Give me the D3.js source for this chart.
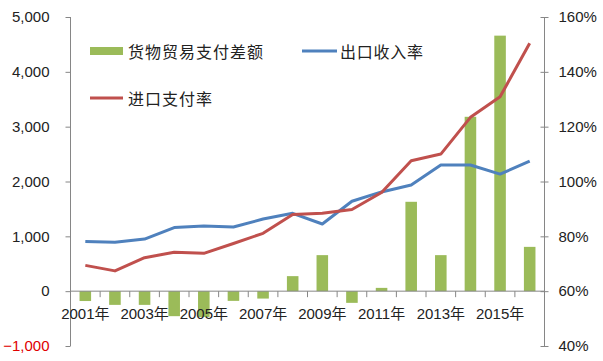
<!DOCTYPE html>
<html><head><meta charset="utf-8">
<script src="https://cdn.jsdelivr.net/npm/d3@7"></script>
<style>body{margin:0;background:#fff}svg{display:block}</style>
</head><body>
<svg id="c" width="603" height="361"></svg>
<script>
const years = ["2001","2002","2003","2004","2005","2006","2007","2008","2009","2010","2011","2012","2013","2014","2015","2016"];
const tradeGap = [-180,-250,-250,-456,-470,-177,-135,274,657,-213,60,1630,657,3180,4660,808];
const exportRate = [78.1,77.8,79.0,83.2,83.8,83.4,86.3,88.4,84.5,92.8,96.2,98.7,106.0,106.0,102.7,107.4];
const importRate = [69.4,67.4,72.2,74.2,73.8,77.4,81.1,88.0,88.4,89.8,96.0,107.6,110.0,123.4,130.9,150.4];
const leftTicks = [-1000,0,1000,2000,3000,4000,5000];
const rightTicks = [40,60,80,100,120,140,160];
const labelYears = ["2001","2003","2005","2007","2009","2011","2013","2015"];

const svg = d3.select("#c");
const X0 = 70.5, X1 = 544.5, YT = 17, YB = 346;
const x = d3.scaleBand().domain(years).range([X0, X1]).paddingInner(0).paddingOuter(0);
const yL = d3.scaleLinear().domain([-1000,5000]).range([YB, YT]);
const yR = d3.scaleLinear().domain([40,160]).range([YB, YT]);
const axisCol = "#868686";
const numFont = "'Liberation Sans', Arial, sans-serif";
const cjkFont = "'Liberation Sans', 'Noto Sans CJK SC', sans-serif";

// bars
const bw = x.bandwidth() * 0.39;
svg.append("g").selectAll("rect").data(years).join("rect")
  .attr("x", d => x(d) + x.bandwidth()/2 - bw/2)
  .attr("width", bw)
  .attr("y", (d,i) => Math.min(yL(tradeGap[i]), yL(0)))
  .attr("height", (d,i) => Math.abs(yL(tradeGap[i]) - yL(0)))
  .attr("fill", "#9BBB59");

// left axis
const gL = svg.append("g").attr("transform", `translate(${X0},0)`)
  .call(d3.axisLeft(yL).tickValues(leftTicks).tickSize(5).tickPadding(16).tickFormat(d3.format(",")));
gL.select(".domain").attr("stroke", axisCol).attr("d", `M-0,${YT}V${YB}`);
gL.selectAll(".tick line").attr("stroke", axisCol);
gL.selectAll(".tick text").attr("font-family", numFont).attr("font-size", 15)
  .attr("fill", d => d < 0 ? "#E00000" : "#222");

// right axis
const gR = svg.append("g").attr("transform", `translate(${X1},0)`)
  .call(d3.axisRight(yR).tickValues(rightTicks).tickSize(4).tickPadding(10).tickFormat(d => d + "%"));
gR.select(".domain").attr("stroke", axisCol).attr("d", `M0,${YT}V${YB}`);
gR.selectAll(".tick line").attr("stroke", axisCol).attr("x1", -4);
gR.selectAll(".tick text").attr("font-family", numFont).attr("font-size", 15).attr("fill", "#222");

// x axis at zero
const y0 = yL(0);
svg.append("line").attr("x1", X0).attr("x2", X1).attr("y1", y0).attr("y2", y0).attr("stroke", axisCol);
const bounds = years.map(d => x(d)).concat([X1]);
svg.append("g").selectAll("line").data(bounds).join("line")
  .attr("x1", d => d).attr("x2", d => d).attr("y1", y0).attr("y2", y0 + 6).attr("stroke", axisCol);
svg.append("g").selectAll("text").data(labelYears).join("text")
  .attr("x", d => x(d) + x.bandwidth()/2)
  .attr("y", y0 + 28)
  .attr("text-anchor", "middle")
  .attr("font-family", cjkFont).attr("font-size", 15).attr("fill", "#222")
  .text(d => d + "年");

// lines
const line = d3.line().x((d,i) => x(years[i]) + x.bandwidth()/2).y(d => yR(d));
svg.append("path").datum(exportRate).attr("d", line).attr("fill", "none")
  .attr("stroke", "#4F81BD").attr("stroke-width", 3).attr("stroke-linejoin", "round");
svg.append("path").datum(importRate).attr("d", line).attr("fill", "none")
  .attr("stroke", "#C0504D").attr("stroke-width", 3).attr("stroke-linejoin", "round");

// legend
const lg = svg.append("g");
lg.append("rect").attr("x", 90).attr("y", 47).attr("width", 33).attr("height", 8).attr("fill", "#9BBB59");
lg.append("text").attr("x", 128).attr("y", 51).attr("dominant-baseline", "central")
  .attr("font-family", "'Noto Sans CJK SC', sans-serif").attr("font-size", 16).attr("fill", "#222")
  .attr("textLength", 135).text("货物贸易支付差额");
lg.append("line").attr("x1", 302).attr("x2", 337).attr("y1", 51).attr("y2", 51).attr("stroke", "#4F81BD").attr("stroke-width", 3);
lg.append("text").attr("x", 340).attr("y", 51).attr("dominant-baseline", "central")
  .attr("font-family", "'Noto Sans CJK SC', sans-serif").attr("font-size", 16).attr("fill", "#222")
  .attr("textLength", 83).text("出口收入率");
lg.append("line").attr("x1", 90).attr("x2", 123).attr("y1", 98).attr("y2", 98).attr("stroke", "#C0504D").attr("stroke-width", 3);
lg.append("text").attr("x", 128).attr("y", 98).attr("dominant-baseline", "central")
  .attr("font-family", "'Noto Sans CJK SC', sans-serif").attr("font-size", 16).attr("fill", "#222")
  .attr("textLength", 84).text("进口支付率");
</script>
</body></html>
